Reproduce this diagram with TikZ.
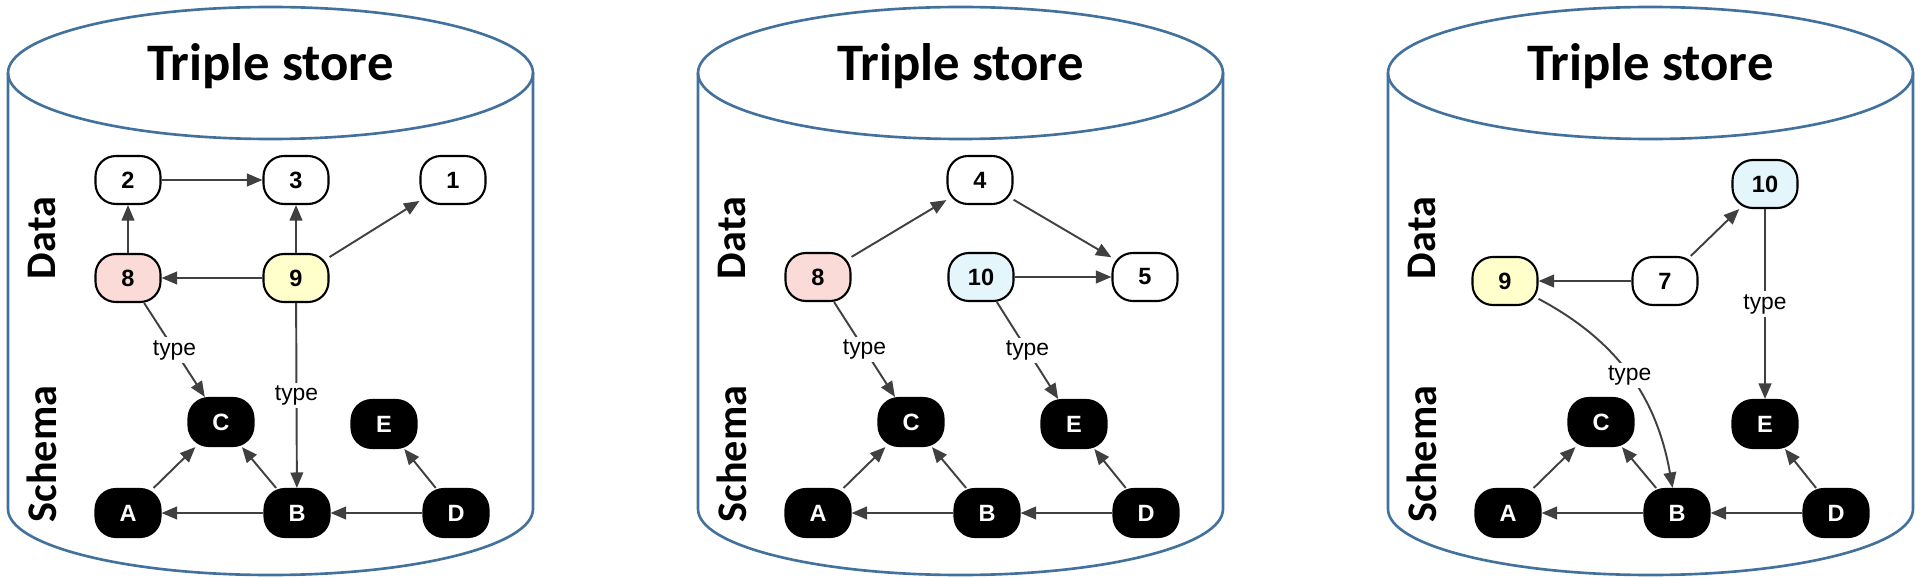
\documentclass[tikz,border=0pt]{standalone}
\usepackage{fontspec}
\setmainfont{Liberation Sans}
\newfontfamily\storefont{Carlito}
\usepackage{tikz}
\usetikzlibrary{arrows.meta}

\definecolor{cylblue}{RGB}{65,113,156}
\definecolor{edgegray}{RGB}{64,64,64}
\definecolor{pinkfill}{RGB}{250,219,216}
\definecolor{yellowfill}{RGB}{255,255,204}
\definecolor{bluefill}{RGB}{228,245,252}

\tikzset{
	cyl/.style={draw=cylblue, line width=0.75pt},
	datanode/.style={draw=black, line width=0.6pt, fill=white, rounded corners=5.8pt, minimum width=0.65cm, minimum height=0.48cm, inner sep=0pt, font=\bfseries\fontsize{6.7}{7}\selectfont},
	classnode/.style={datanode, fill=black, text=white},
	rel/.style={draw=edgegray, line width=0.55pt, -{Triangle[length=4.4pt,width=3.6pt]}},
	typelabel/.style={fill=white, inner sep=0.8pt, font=\fontsize{6.5}{7}\selectfont},
	titletext/.style={anchor=base, font=\storefont\bfseries\fontsize{15}{16}\selectfont},
	sidetext/.style={rotate=90, font=\storefont\bfseries\fontsize{12}{13}\selectfont},
}

\begin{document}
\begin{tikzpicture}
			\useasboundingbox (0,0) rectangle (19.2,5.77);
			% Cylinders
			\draw[cyl] (0.08, 5.04) -- (0.08, 0.68) arc[start angle=180, end angle=360, x radius=2.625, y radius=0.66] -- (5.33, 5.04);
			\draw[cyl] (2.705, 5.04) ellipse [x radius=2.625, y radius=0.66];
			\draw[cyl] (6.98, 5.04) -- (6.98, 0.68) arc[start angle=180, end angle=360, x radius=2.625, y radius=0.66] -- (12.23, 5.04);
			\draw[cyl] (9.605, 5.04) ellipse [x radius=2.625, y radius=0.66];
			\draw[cyl] (13.88, 5.04) -- (13.88, 0.68) arc[start angle=180, end angle=360, x radius=2.625, y radius=0.66] -- (19.13, 5.04);
			\draw[cyl] (16.505, 5.04) ellipse [x radius=2.625, y radius=0.66];
			\node[titletext] (titlea) at (2.705, 4.96) {Triple store};
			\node[titletext] (titleb) at (9.605, 4.96) {Triple store};
			\node[titletext] (titlec) at (16.505, 4.96) {Triple store};
			\node[sidetext] (dataa) at (0.415, 3.39) {Data};
			\node[sidetext] (schemaa) at (0.415, 1.23) {Schema};
			\node[sidetext] (datab) at (7.315, 3.39) {Data};
			\node[sidetext] (schemab) at (7.315, 1.23) {Schema};
			\node[sidetext] (datac) at (14.215, 3.39) {Data};
			\node[sidetext] (schemac) at (14.215, 1.23) {Schema};
			% First store
			\node[datanode] (n2a) at (1.28, 3.97) {2};
			\node[datanode] (n3a) at (2.96, 3.97) {3};
			\node[datanode] (n1a) at (4.53, 3.97) {1};
			\node[datanode, fill=pinkfill] (n8a) at (1.28, 2.99) {8};
			\node[datanode, fill=yellowfill] (n9a) at (2.96, 2.99) {9};
			\node[classnode] (ca) at (2.21, 1.55) {C};
			\node[classnode] (ea) at (3.84, 1.53) {E};
			\node[classnode] (aa) at (1.28, 0.64) {A};
			\node[classnode] (ba) at (2.97, 0.64) {B};
			\node[classnode] (da) at (4.56, 0.64) {D};
			\draw[rel] (n2a) -- (n3a);
			\draw[rel] (n8a) -- (n2a);
			\draw[rel] (n9a) -- (n3a);
			\draw[rel] (n9a) -- (n1a);
			\draw[rel] (n9a) -- (n8a);
			\draw[rel] (n8a) -- node[typelabel] (typea) {type} (ca);
			\draw[rel] (n9a) -- node[typelabel] (typeaa) {type} (ba);
			\draw[rel] (aa) -- (ca);
			\draw[rel] (ba) -- (ca);
			\draw[rel] (ba) -- (aa);
			\draw[rel] (da) -- (ba);
			\draw[rel] (da) -- (ea);
			% Second store
			\node[datanode] (n4b) at (9.80, 3.97) {4};
			\node[datanode, fill=pinkfill] (n8b) at (8.18, 3.00) {8};
			\node[datanode, fill=bluefill] (n10b) at (9.81, 3.00) {10};
			\node[datanode] (n5b) at (11.45, 3.00) {5};
			\node[classnode] (cb) at (9.11, 1.55) {C};
			\node[classnode] (eb) at (10.74, 1.53) {E};
			\node[classnode] (ab) at (8.18, 0.64) {A};
			\node[classnode] (bb) at (9.87, 0.64) {B};
			\node[classnode] (db) at (11.46, 0.64) {D};
			\draw[rel] (n8b) -- (n4b);
			\draw[rel] (n4b) -- (n5b);
			\draw[rel] (n10b) -- (n5b);
			\draw[rel] (n8b) -- node[typelabel] (typeb) {type} (cb);
			\draw[rel] (n10b) -- node[typelabel] (typebb) {type} (eb);
			\draw[rel] (ab) -- (cb);
			\draw[rel] (bb) -- (cb);
			\draw[rel] (bb) -- (ab);
			\draw[rel] (db) -- (bb);
			\draw[rel] (db) -- (eb);
			% Third store
			\node[datanode, fill=bluefill] (n10c) at (17.65, 3.93) {10};
			\node[datanode, fill=yellowfill] (n9c) at (15.05, 2.96) {9};
			\node[datanode] (n7c) at (16.65, 2.96) {7};
			\node[classnode] (cc) at (16.01, 1.55) {C};
			\node[classnode] (ec) at (17.65, 1.53) {E};
			\node[classnode] (ac) at (15.08, 0.64) {A};
			\node[classnode] (bc) at (16.77, 0.64) {B};
			\node[classnode] (dc) at (18.36, 0.64) {D};
			\draw[rel] (n7c) -- (n9c);
			\draw[rel] (n7c) -- (n10c);
			\draw[rel] (n10c) -- node[typelabel] (typec) {type} (ec);
			\draw[rel] (n9c) to[out=-28, in=100] node[typelabel, pos=0.5] (typecc) {type} (bc);
			\draw[rel] (ac) -- (cc);
			\draw[rel] (bc) -- (cc);
			\draw[rel] (bc) -- (ac);
			\draw[rel] (dc) -- (bc);
			\draw[rel] (dc) -- (ec);
\end{tikzpicture}
\end{document}
